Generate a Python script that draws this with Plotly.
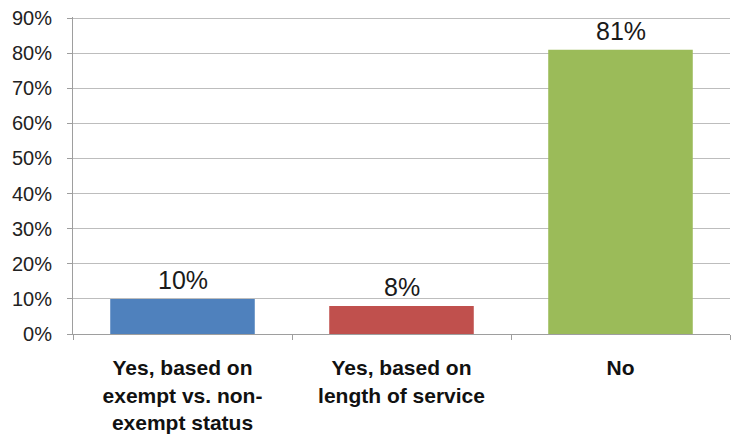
import plotly.graph_objects as go

categories = ["Yes, based on<br>exempt vs. non-<br>exempt status",
              "Yes, based on<br>length of service",
              "No"]
values = [0.10, 0.08, 0.81]
labels = ["10%", "8%", "81%"]
colors = ["#4F81BD", "#C0504D", "#9BBB59"]
tick_vals = [0, 0.1, 0.2, 0.3, 0.4, 0.5, 0.6, 0.7, 0.8, 0.9]
tick_text = ["0%", "10%", "20%", "30%", "40%", "50%", "60%", "70%", "80%", "90%"]

FONT = "Liberation Sans, Arial, sans-serif"

fig = go.Figure()
fig.add_trace(go.Bar(x=categories, y=values, marker=dict(color=colors, line=dict(width=0)),
                     width=0.66, hoverinfo="skip"))

for c, v, t in zip(categories, values, labels):
    fig.add_annotation(x=c, y=v, text=t, showarrow=False, yanchor="bottom", yshift=3,
                       font=dict(family=FONT, size=25, color="#1a1a1a"))

# page body has an 8px default margin, so the figure is sized to fit the window
fig.update_layout(
    width=738, height=426,
    margin=dict(l=65, r=16, t=9, b=100, autoexpand=False),
    paper_bgcolor="white", plot_bgcolor="white",
    showlegend=False,
    font=dict(family=FONT, color="#222"),
)
fig.update_yaxes(range=[0, 0.903], tickvals=tick_vals, ticktext=tick_text,
                 showgrid=True, gridcolor="#BDBDBD", gridwidth=1,
                 showline=True, linecolor="#9E9E9E", linewidth=1,
                 ticks="outside", ticklen=5, tickcolor="#9E9E9E",
                 ticklabelstandoff=11, automargin=False, ticklabeloverflow="allow",
                 tickfont=dict(size=20, color="#222"), zeroline=False)
fig.update_xaxes(showline=True, linecolor="#9E9E9E", linewidth=1,
                 ticks="outside", ticklen=5, tickcolor="#9E9E9E", tickson="boundaries",
                 ticklabelstandoff=15, automargin=False,
                 tickfont=dict(size=21, color="#111", family=FONT),
                 showgrid=False,
                 tickvals=categories,
                 ticktext=["<b>" + c + "</b>" for c in categories])

fig.write_html("out.html")
